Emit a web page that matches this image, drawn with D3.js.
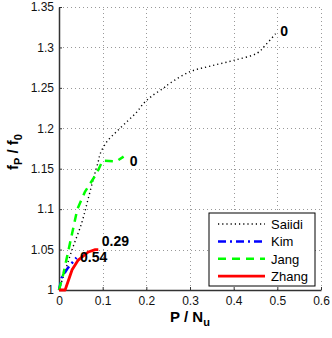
<!DOCTYPE html>
<html>
<head>
<meta charset="utf-8">
<script src="https://cdn.jsdelivr.net/npm/d3@7"></script>
<style>
  body { margin: 0; background: #fff; }
  text { font-family: "Liberation Sans", Arial, sans-serif; }
</style>
</head>
<body>
<div id="chart"></div>
<script>
// ---- data ----
const saiidi = [[0,1],[0.012,1.02],[0.03,1.05],[0.052,1.083],[0.065,1.109],[0.08,1.14],[0.09,1.159],[0.094,1.168],[0.109,1.183],[0.132,1.196],[0.159,1.21],[0.178,1.22],[0.194,1.231],[0.213,1.24],[0.24,1.25],[0.255,1.256],[0.30,1.27],[0.347,1.277],[0.40,1.284],[0.454,1.293],[0.473,1.303],[0.496,1.317]];
const kim    = [[0,1],[0.006,1.015],[0.02,1.027],[0.04,1.04]];
const jang   = [[0,1],[0.01,1.02],[0.02,1.045],[0.03,1.07],[0.042,1.1],[0.06,1.122],[0.086,1.144],[0.1,1.16],[0.131,1.159],[0.148,1.165]];
const zhang  = [[0,1],[0.014,1],[0.03,1.025],[0.044,1.037],[0.067,1.047],[0.083,1.05],[0.09,1.05]];

const xTicks = [0, 0.1, 0.2, 0.3, 0.4, 0.5, 0.6];
const yTicks = [1, 1.05, 1.1, 1.15, 1.2, 1.25, 1.3, 1.35];

const annotations = [
  { text: '0',    x: 0.5,   y: 1.32,  dx: 3,  dy: 5 },
  { text: '0',    x: 0.148, y: 1.16,  dx: 6,  dy: 5 },
  { text: '0.54', x: 0.048, y: 1.037, dx: 0,  dy: 2 },
  { text: '0.29', x: 0.098, y: 1.05,  dx: 0,  dy: -4 }
];

const series = [
  { name: 'Saiidi', data: saiidi, color: '#000',    width: 1.4, dash: '1.2,3', curve: d3.curveCatmullRom },
  { name: 'Kim',    data: kim,    color: '#0000ff', width: 2.5, dash: '8,4,2,4', curve: d3.curveLinear },
  { name: 'Jang',   data: jang,   color: '#00ff00', width: 2.5, dash: '8,6', curve: d3.curveLinear },
  { name: 'Zhang',  data: zhang,  color: '#ff0000', width: 2.8, dash: null, curve: d3.curveLinear }
];

// ---- layout ----
const width = 332, height = 338;
const margin = { top: 7, right: 11, bottom: 48, left: 59 };

const svg = d3.select('#chart').append('svg')
  .attr('width', width)
  .attr('height', height);

const x = d3.scaleLinear().domain([0, 0.6]).range([margin.left, width - margin.right]);
const y = d3.scaleLinear().domain([1, 1.35]).range([height - margin.bottom, margin.top]);

// grid
const grid = svg.append('g').attr('stroke', '#999').attr('stroke-width', 1).attr('stroke-dasharray', '1,3');
grid.selectAll('.gx').data(xTicks.slice(1)).join('line')
  .attr('x1', d => Math.round(x(d)) + 0.5).attr('x2', d => Math.round(x(d)) + 0.5)
  .attr('y1', y(1)).attr('y2', y(1.35));
grid.selectAll('.gy').data(yTicks.slice(1)).join('line')
  .attr('y1', d => Math.round(y(d)) + 0.5).attr('y2', d => Math.round(y(d)) + 0.5)
  .attr('x1', x(0)).attr('x2', x(0.6));

// axes
const xAxis = svg.append('g')
  .attr('transform', `translate(0,${y(1)})`)
  .call(d3.axisBottom(x).tickValues(xTicks).tickFormat(d3.format('')).tickSizeInner(-3).tickSizeOuter(0).tickPadding(6));
const yAxis = svg.append('g')
  .attr('transform', `translate(${x(0)},0)`)
  .call(d3.axisLeft(y).tickValues(yTicks).tickFormat(d3.format('')).tickSizeInner(-3).tickSizeOuter(0).tickPadding(5));
[xAxis, yAxis].forEach(a => {
  a.select('.domain').attr('stroke', '#333').attr('stroke-width', 1.5);
  a.selectAll('.tick line').attr('stroke', '#333');
  a.selectAll('.tick text').attr('font-size', 12).attr('fill', '#111')
    .attr('font-family', '"Liberation Sans", Arial, sans-serif');
});

// lines
svg.append('g').selectAll('path').data(series).join('path')
  .attr('d', d => d3.line().x(p => x(p[0])).y(p => y(p[1])).curve(d.curve)(d.data))
  .attr('fill', 'none')
  .attr('stroke', d => d.color)
  .attr('stroke-width', d => d.width)
  .attr('stroke-dasharray', d => d.dash)
  .attr('stroke-linejoin', 'round');

// annotations
svg.append('g').selectAll('text').data(annotations).join('text')
  .attr('x', d => x(d.x) + d.dx)
  .attr('y', d => y(d.y) + d.dy)
  .attr('font-size', 14).attr('font-weight', 'bold')
  .text(d => d.text);

// legend
const lg = svg.append('g').attr('transform', 'translate(209,213)');
lg.append('rect').attr('width', 106).attr('height', 73)
  .attr('fill', '#fff').attr('stroke', '#000').attr('stroke-width', 1);
const item = lg.selectAll('.item').data(series).join('g')
  .attr('transform', (d, i) => `translate(0,${11 + i * 17.4})`);
item.append('line').attr('x1', 9).attr('x2', 56).attr('y1', 0).attr('y2', 0)
  .attr('stroke', d => d.color)
  .attr('stroke-width', d => d.width)
  .attr('stroke-dasharray', d => d.dash);
item.append('text').attr('x', 62).attr('y', 5).attr('font-size', 13).text(d => d.name);

// axis labels
svg.append('text')
  .attr('x', x(0.3)).attr('y', 322)
  .attr('text-anchor', 'middle').attr('font-size', 15).attr('font-weight', 'bold')
  .html('P / N<tspan font-size="11" dy="4">u</tspan>');
svg.append('text')
  .attr('transform', 'translate(18,170) rotate(-90)')
  .attr('font-size', 15).attr('font-weight', 'bold')
  .html('f<tspan font-size="11" dy="4">P</tspan><tspan dy="-4"> / f</tspan><tspan font-size="11" dy="4">0</tspan>');
</script>
</body>
</html>
